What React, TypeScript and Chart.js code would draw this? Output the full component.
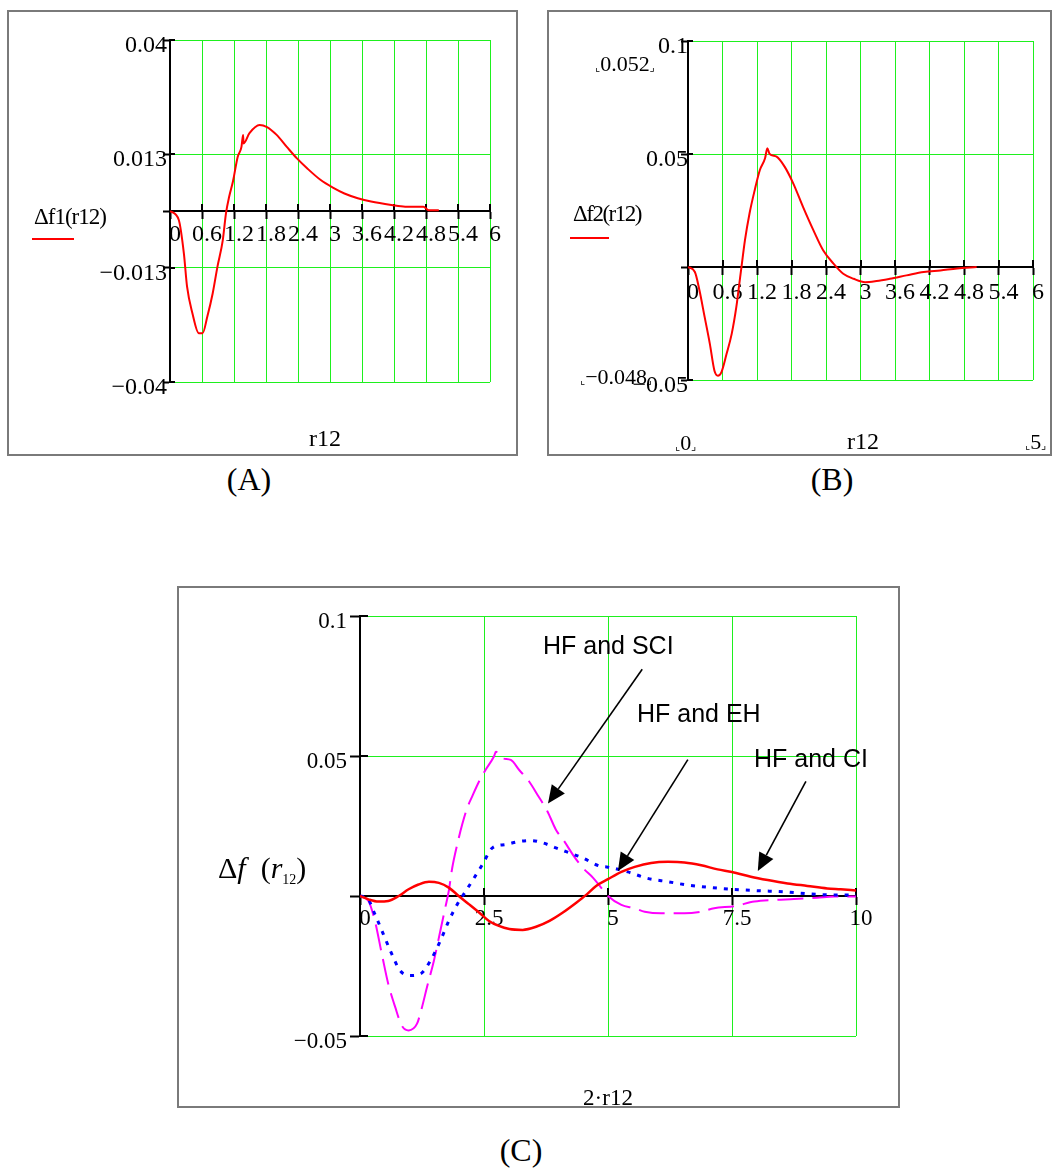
import React, { useEffect, useRef } from 'react';
import { Chart, registerables } from 'chart.js';

Chart.register(...registerables);

// ---------------- DATA ----------------
// Panel A: Δf1(r12)
const A_R12 = [0, 0.165, 0.26, 0.32, 0.42, 0.54, 0.61, 0.70, 0.80, 0.89, 0.99, 1.05, 1.11, 1.18, 1.27, 1.34, 1.37, 1.38, 1.49, 1.68, 1.81, 2.00, 2.19, 2.38, 2.57, 2.82, 3.08, 3.27, 3.52, 3.77, 4.15, 4.41, 4.75, 4.85, 5.04];
const A_DF1 = [0, -0.0021, -0.0099, -0.0177, -0.0239, -0.0286, -0.0286, -0.0247, -0.0193, -0.0130, -0.0068, -0.0005, 0.0034, 0.0069, 0.0127, 0.0150, 0.0178, 0.0158, 0.0182, 0.0201, 0.0197, 0.0178, 0.0150, 0.0123, 0.0100, 0.0073, 0.0053, 0.0041, 0.0030, 0.0022, 0.0014, 0.0010, 0.0010, 0.0002, 0.0002];
const A_X_TICKS = [0, 0.6, 1.2, 1.8, 2.4, 3, 3.6, 4.2, 4.8, 5.4, 6];
const A_X_LABELS = ['0', '0.6', '1.2', '1.8', '2.4', '3', '3.6', '4.2', '4.8', '5.4', '6'];
const A_Y_TICKS = [-0.04, -0.01333, 0, 0.01333, 0.04];
const A_Y_LABELS = ['\u22120.04', '\u22120.013', '', '0.013', '0.04'];

// Panel B: Δf2(r12)
const B_R12 = [0, 0.12, 0.20, 0.29, 0.38, 0.46, 0.52, 0.58, 0.67, 0.76, 0.84, 0.90, 0.93, 0.99, 1.07, 1.16, 1.25, 1.34, 1.38, 1.42, 1.54, 1.68, 1.83, 2.00, 2.18, 2.35, 2.53, 2.70, 2.88, 3.08, 3.28, 3.51, 3.80, 4.10, 4.39, 4.68, 5.02];
const B_DF2 = [0, -0.0022, -0.0104, -0.0222, -0.0340, -0.0459, -0.0481, -0.0466, -0.0385, -0.0296, -0.0178, -0.0059, 0, 0.0118, 0.0237, 0.0340, 0.0429, 0.0481, 0.0525, 0.0500, 0.0488, 0.0444, 0.0370, 0.0266, 0.0163, 0.0074, 0.0015, -0.0030, -0.0052, -0.0067, -0.0062, -0.0052, -0.0037, -0.0022, -0.0015, -0.0007, 0];
const B_X_TICKS = [0, 0.6, 1.2, 1.8, 2.4, 3, 3.6, 4.2, 4.8, 5.4, 6];
const B_X_LABELS = ['0', '0.6', '1.2', '1.8', '2.4', '3', '3.6', '4.2', '4.8', '5.4', '6'];
const B_Y_TICKS = [-0.05, 0, 0.05, 0.1];
const B_Y_LABELS = ['\u22120.05', '', '0.05', '0.1'];

// Panel C: Δf(r12) vs 2·r12
const C_X_SCI = [0, 0.17, 0.30, 0.44, 0.57, 0.71, 0.84, 0.98, 1.15, 1.25, 1.35, 1.49, 1.62, 1.72, 1.79, 1.86, 1.96, 2.06, 2.16, 2.26, 2.40, 2.53, 2.70, 2.74, 2.87, 3.04, 3.21, 3.41, 3.58, 3.78, 3.95, 4.12, 4.29, 4.49, 4.70, 4.86, 5.0, 5.27, 5.54, 5.74, 6.07, 6.54, 6.88, 7.14, 7.55, 7.95, 8.35, 8.75, 9.22, 9.56, 10.0];
const C_DF_SCI = [0, -0.0018, -0.0089, -0.0207, -0.0314, -0.0397, -0.0462, -0.0480, -0.0456, -0.0397, -0.0326, -0.0231, -0.0124, -0.0041, 0.0018, 0.0101, 0.0184, 0.0255, 0.0314, 0.0355, 0.0409, 0.0450, 0.0498, 0.0515, 0.0492, 0.0486, 0.0450, 0.0409, 0.0361, 0.0302, 0.0237, 0.0195, 0.0148, 0.0101, 0.0065, 0.0030, 0, -0.0032, -0.0044, -0.0056, -0.0062, -0.0062, -0.0056, -0.0044, -0.0036, -0.0020, -0.0014, -0.0011, -0.0006, -0.0002, -0.0002];
const C_X_EH = [0, 0.14, 0.30, 0.47, 0.64, 0.81, 1.01, 1.22, 1.42, 1.62, 1.79, 1.96, 2.09, 2.26, 2.47, 2.67, 2.94, 3.21, 3.45, 3.68, 3.95, 4.22, 4.49, 4.83, 5.0, 5.40, 5.80, 6.21, 6.61, 7.08, 7.5, 8.02, 8.55, 9.09, 9.56, 10];
const C_DF_EH = [0, -0.0006, -0.0065, -0.0136, -0.0207, -0.0267, -0.0284, -0.0278, -0.0231, -0.0160, -0.0089, -0.0030, 0.0006, 0.0053, 0.0113, 0.0172, 0.0184, 0.0195, 0.0198, 0.0190, 0.0172, 0.0154, 0.0136, 0.0107, 0.0103, 0.0086, 0.0063, 0.0051, 0.0039, 0.0030, 0.0024, 0.0019, 0.0015, 0.0007, 0.0004, 0.0004];
const C_X_CI = [0, 0.17, 0.37, 0.57, 0.78, 0.98, 1.18, 1.39, 1.59, 1.79, 1.99, 2.20, 2.40, 2.60, 2.80, 3.01, 3.28, 3.55, 3.82, 4.09, 4.36, 4.56, 4.76, 5.0, 5.27, 5.54, 5.87, 6.21, 6.54, 6.88, 7.21, 7.5, 7.88, 8.22, 8.62, 9.02, 9.42, 9.69, 10];
const C_DF_CI = [0, -0.0012, -0.0020, -0.0018, 0, 0.0024, 0.0041, 0.0051, 0.0047, 0.0030, 0, -0.0030, -0.0059, -0.0089, -0.0107, -0.0118, -0.0121, -0.0110, -0.0089, -0.0059, -0.0024, 0.0004, 0.0036, 0.0060, 0.0086, 0.0104, 0.0118, 0.0122, 0.0120, 0.0110, 0.0095, 0.0086, 0.0069, 0.0057, 0.0045, 0.0036, 0.0027, 0.0024, 0.0020];
const C_X_TICKS = [0, 2.5, 5, 7.5, 10];
const C_X_LABELS = ['0', '2.5', '5', '7.5', '10'];
const C_Y_TICKS = [-0.05, 0, 0.05, 0.1];
const C_Y_LABELS = ['\u22120.05', '', '0.05', '0.1'];

// arrows of panel C, in data coordinates (from -> tip)
const C_ARROWS = [
  { from: [5.69, 0.0810], to: [3.79, 0.0330] },
  { from: [6.61, 0.0487], to: [5.20, 0.0089] },
  { from: [8.99, 0.0409], to: [8.02, 0.0089] },
];

// ---------------- STYLE ----------------
const SERIF = '"Liberation Serif", "Times New Roman", serif';
const SANS = '"Liberation Sans", Arial, sans-serif';
const GRID = '#1ef01e';

const pts = (xs: number[], ys: number[]) => xs.map((x, i) => ({ x, y: ys[i] }));

const mathcadTicks = {
  id: 'mathcadTicks',
  beforeDatasetsDraw(chart: any, _a: any, opts: any) {
    const { ctx } = chart;
    const x = chart.scales.x;
    const y = chart.scales.y;
    const y0 = y.getPixelForValue(0);
    ctx.save();
    ctx.strokeStyle = '#000';
    ctx.lineWidth = 2;
    x.ticks.forEach((t: any) => {
      if (t.value === 0) return;
      const px = Math.round(x.getPixelForValue(t.value));
      ctx.beginPath();
      ctx.moveTo(px, y0 - opts.up);
      ctx.lineTo(px, y0);
      ctx.stroke();
    });
    y.ticks.forEach((t: any) => {
      const py = Math.round(y.getPixelForValue(t.value));
      ctx.beginPath();
      ctx.moveTo(x.left, py);
      ctx.lineTo(x.left + opts.right, py);
      ctx.stroke();
    });
    ctx.restore();
  },
};

const arrowPlugin = {
  id: 'arrows',
  afterDatasetsDraw(chart: any, _a: any, opts: any) {
    const items = (opts && opts.items) || [];
    if (!items.length) return;
    const { ctx } = chart;
    const x = chart.scales.x;
    const y = chart.scales.y;
    ctx.save();
    ctx.strokeStyle = '#000';
    ctx.fillStyle = '#000';
    ctx.lineWidth = 1.6;
    items.forEach((a: any) => {
      const x1 = x.getPixelForValue(a.from[0]);
      const y1 = y.getPixelForValue(a.from[1]);
      const x2 = x.getPixelForValue(a.to[0]);
      const y2 = y.getPixelForValue(a.to[1]);
      const ang = Math.atan2(y2 - y1, x2 - x1);
      const L = 18;
      const W = 8;
      const bx = x2 - L * Math.cos(ang);
      const by = y2 - L * Math.sin(ang);
      ctx.beginPath();
      ctx.moveTo(x1, y1);
      ctx.lineTo(bx, by);
      ctx.stroke();
      ctx.beginPath();
      ctx.moveTo(x2, y2);
      ctx.lineTo(bx + W * Math.sin(ang), by - W * Math.cos(ang));
      ctx.lineTo(bx - W * Math.sin(ang), by + W * Math.cos(ang));
      ctx.closePath();
      ctx.fill();
    });
    ctx.restore();
  },
};

type Spec = {
  w: number; h: number;
  padTop: number; padRight: number; padBottom: number; yWidth: number;
  xMin: number; xMax: number; xTicks: number[]; xLabels: string[];
  yMin: number; yMax: number; yTicks: number[]; yLabels: string[];
  xTickLen: number; xPad: number; xLabelOffset: number;
  yTickLen: number; yPad: number; yLabelOffset: number;
  up: number; right: number; fontSize: number;
  datasets: any[];
  arrows?: any[];
};

function buildConfig(p: Spec): any {
  const font = { family: SERIF, size: p.fontSize };
  return {
    type: 'scatter',
    data: { datasets: p.datasets },
    plugins: [mathcadTicks, arrowPlugin],
    options: {
      animation: false,
      responsive: false,
      events: [],
      layout: { padding: { left: 0, top: p.padTop, right: p.padRight, bottom: p.padBottom } },
      plugins: {
        legend: { display: false },
        tooltip: { enabled: false },
        title: { display: false },
        mathcadTicks: { up: p.up, right: p.right },
        arrows: { items: p.arrows || [] },
      },
      scales: {
        x: {
          type: 'linear',
          min: p.xMin,
          max: p.xMax,
          position: { y: 0 },
          afterFit: (s: any) => { s.height = 0; },
          afterBuildTicks: (s: any) => { s.ticks = p.xTicks.map((v) => ({ value: v })); },
          grid: {
            color: (c: any) => (c.tick && c.tick.value === 0 ? 'rgba(0,0,0,0)' : GRID),
            lineWidth: 1,
            tickColor: '#000',
            tickLength: p.xTickLen,
            tickWidth: 2,
          },
          border: { display: true, color: '#000', width: 2 },
          ticks: {
            autoSkip: false, maxRotation: 0, minRotation: 0,
            padding: p.xPad, labelOffset: p.xLabelOffset, color: '#000', font,
            callback: (_v: any, i: number) => p.xLabels[i],
          },
        },
        y: {
          type: 'linear',
          min: p.yMin,
          max: p.yMax,
          position: 'left',
          afterFit: (s: any) => { s.width = p.yWidth; },
          afterBuildTicks: (s: any) => { s.ticks = p.yTicks.map((v) => ({ value: v })); },
          grid: {
            color: (c: any) => (c.tick && c.tick.value === 0 ? 'rgba(0,0,0,0)' : GRID),
            lineWidth: 1,
            tickColor: '#000',
            tickLength: p.yTickLen,
            tickWidth: 2,
          },
          border: { display: true, color: '#000', width: 2 },
          ticks: {
            autoSkip: false,
            padding: p.yPad, labelOffset: p.yLabelOffset, color: '#000', font,
            callback: (_v: any, i: number) => p.yLabels[i],
          },
        },
      },
    },
  };
}

function Plot({ spec, left, top }: { spec: Spec; left: number; top: number }) {
  const ref = useRef<HTMLCanvasElement | null>(null);
  useEffect(() => {
    if (!ref.current) return;
    const chart = new Chart(ref.current, buildConfig(spec));
    return () => chart.destroy();
  }, []);
  return (
    <>
      <canvas ref={ref} width={spec.w} height={spec.h}
        style={{ position: 'absolute', left, top, width: spec.w, height: spec.h }} />
      <div style={{ position: 'absolute', left, top, width: spec.w, height: spec.h, boxSizing: 'border-box', border: '2px solid #7a7a7a', pointerEvents: 'none' }} />
    </>
  );
}

const line = (data: any[], color: string, width: number, dash: number[] = []) => ({
  data, showLine: true, borderColor: color, backgroundColor: color, borderWidth: width,
  borderDash: dash, pointRadius: 0, cubicInterpolationMode: 'monotone', fill: false,
});

const SPEC_A: Spec = {
  w: 511, h: 446, padTop: 30, padRight: 28, padBottom: 74, yWidth: 163,
  xMin: 0, xMax: 6, xTicks: A_X_TICKS, xLabels: A_X_LABELS,
  yMin: -0.04, yMax: 0.04, yTicks: A_Y_TICKS, yLabels: A_Y_LABELS,
  xTickLen: 7, xPad: 2, xLabelOffset: 5, yTickLen: 7, yPad: -4, yLabelOffset: 6,
  up: 7, right: 5, fontSize: 24,
  datasets: [line(pts(A_R12, A_DF1), '#ff0000', 2)],
};

const SPEC_B: Spec = {
  w: 505, h: 446, padTop: 31, padRight: 19, padBottom: 76, yWidth: 141,
  xMin: 0, xMax: 6, xTicks: B_X_TICKS, xLabels: B_X_LABELS,
  yMin: -0.05, yMax: 0.1, yTicks: B_Y_TICKS, yLabels: B_Y_LABELS,
  xTickLen: 7, xPad: 4, xLabelOffset: 5, yTickLen: 7, yPad: -7, yLabelOffset: 6,
  up: 7, right: 5, fontSize: 24,
  datasets: [line(pts(B_R12, B_DF2), '#ff0000', 2)],
};

const SPEC_C: Spec = {
  w: 723, h: 522, padTop: 30, padRight: 44, padBottom: 72, yWidth: 183,
  xMin: 0, xMax: 10, xTicks: C_X_TICKS, xLabels: C_X_LABELS,
  yMin: -0.05, yMax: 0.1, yTicks: C_Y_TICKS, yLabels: C_Y_LABELS,
  xTickLen: 8, xPad: 1, xLabelOffset: 5, yTickLen: 10, yPad: 3, yLabelOffset: 6,
  up: 8, right: 8, fontSize: 23,
  datasets: [
    line(pts(C_X_CI, C_DF_CI), '#ff0000', 2.5),
    line(pts(C_X_EH, C_DF_EH), '#0000ff', 3, [4, 7]),
    line(pts(C_X_SCI, C_DF_SCI), '#ff00ff', 2, [26, 9]),
  ],
  arrows: C_ARROWS,
};

const abs = (left: number, top: number, extra: any = {}): any => ({
  position: 'absolute', left, top, whiteSpace: 'nowrap', lineHeight: 1, color: '#000', ...extra,
});
const centered = (cx: number, cy: number, extra: any = {}): any =>
  abs(cx, cy, { transform: 'translate(-50%, -50%)', ...extra });
const leftMid = (lx: number, cy: number, extra: any = {}): any =>
  abs(lx, cy, { transform: 'translate(0, -50%)', ...extra });

const br = { fontSize: 11, fontFamily: '"DejaVu Sans", sans-serif' };

export default function App() {
  return (
    <div style={{ position: 'absolute', left: 0, top: 0, width: 1052, height: 1168, background: '#fff', overflow: 'hidden', fontFamily: SERIF }}>
      <Plot spec={SPEC_A} left={7} top={10} />
      <Plot spec={SPEC_B} left={547} top={10} />
      <Plot spec={SPEC_C} left={177} top={586} />

      {/* Panel A labels */}
      <div style={leftMid(34, 216, { fontSize: 23, letterSpacing: -1 })}>Δf1(r12)</div>
      <div style={abs(32, 238, { width: 42, height: 2, background: '#ff0000' })} />
      <div style={centered(325, 438, { fontSize: 24 })}>r12</div>

      {/* Panel B labels */}
      <div style={leftMid(573, 213, { fontSize: 23, letterSpacing: -1.5 })}>Δf2(r12)</div>
      <div style={abs(570, 237, { width: 39, height: 2, background: '#ff0000' })} />
      <div style={centered(863, 441, { fontSize: 24 })}>r12</div>
      <div style={leftMid(595, 64, { fontSize: 22 })}><span style={br}>⌞</span>0.052<span style={br}>⌟</span></div>
      <div style={leftMid(580, 377, { fontSize: 22 })}><span style={br}>⌞</span>−0.048<span style={br}>⌟</span></div>
      <div style={leftMid(675, 443, { fontSize: 22 })}><span style={br}>⌞</span>0<span style={br}>⌟</span></div>
      <div style={leftMid(1025, 442, { fontSize: 22 })}><span style={br}>⌞</span>5<span style={br}>⌟</span></div>

      {/* Panel C labels */}
      <div style={leftMid(218, 868, { fontSize: 30 })}>
        Δ<i>f</i>&nbsp;&nbsp;(<i>r</i><span style={{ fontSize: 14, position: 'relative', top: 6 }}>12</span>)
      </div>
      <div style={centered(608, 1097, { fontSize: 23 })}>2·r12</div>
      <div style={leftMid(543, 645, { fontSize: 25, fontFamily: SANS })}>HF and SCI</div>
      <div style={leftMid(637, 713, { fontSize: 25, fontFamily: SANS })}>HF and EH</div>
      <div style={leftMid(754, 758, { fontSize: 25, fontFamily: SANS })}>HF and CI</div>

      {/* Captions */}
      <div style={centered(249, 479, { fontSize: 32 })}>(A)</div>
      <div style={centered(832, 479, { fontSize: 32 })}>(B)</div>
      <div style={centered(521, 1150, { fontSize: 32 })}>(C)</div>
    </div>
  );
}
